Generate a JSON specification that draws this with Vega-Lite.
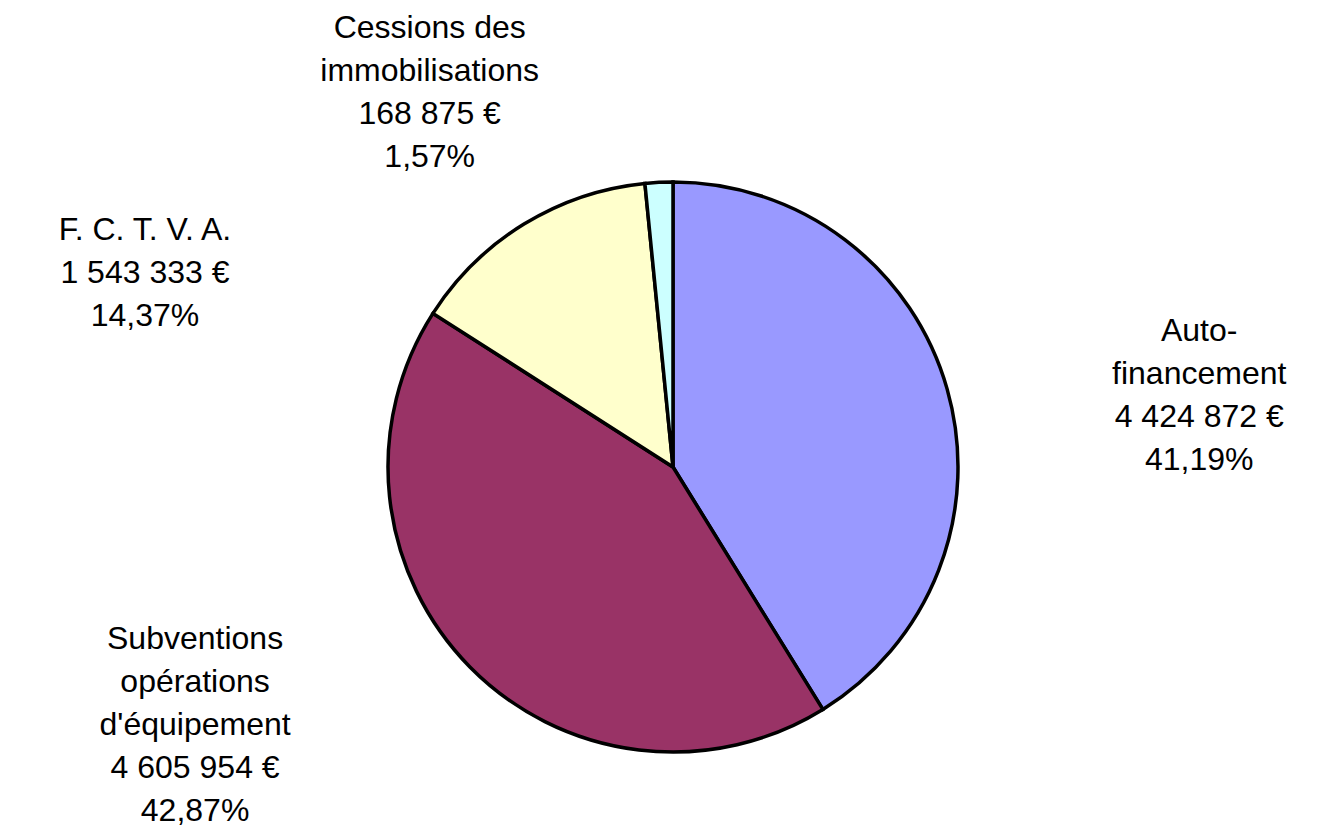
{
  "$schema": "https://vega.github.io/schema/vega-lite/v6.json",
  "width": 1306,
  "height": 726,
  "autosize": {"type": "none"},
  "padding": {"left": 20, "top": 104, "right": 0, "bottom": 0},
  "background": "white",
  "config": {"view": {"stroke": null}},
  "data": {
    "values": [
      {"rang": 1, "categorie": "Auto-financement", "montant": 4424872, "etiquette": "Auto-\nfinancement\n4 424 872 €\n41,19%"},
      {"rang": 2, "categorie": "Subventions opérations d'équipement", "montant": 4605954, "etiquette": "Subventions\nopérations\nd'équipement\n4 605 954 €\n42,87%"},
      {"rang": 3, "categorie": "F. C. T. V. A.", "montant": 1543333, "etiquette": "F. C. T. V. A.\n1 543 333 €\n14,37%"},
      {"rang": 4, "categorie": "Cessions des immobilisations", "montant": 168875, "etiquette": "Cessions des\nimmobilisations\n168 875 €\n1,57%"}
    ]
  },
  "encoding": {
    "theta": {"field": "montant", "type": "quantitative", "stack": true},
    "order": {"field": "rang", "type": "quantitative", "sort": "ascending"}
  },
  "layer": [
    {
      "mark": {"type": "arc", "radius": 285, "stroke": "black", "strokeWidth": 3.5},
      "encoding": {
        "color": {
          "field": "categorie",
          "type": "nominal",
          "scale": {
            "domain": ["Auto-financement", "Subventions opérations d'équipement", "F. C. T. V. A.", "Cessions des immobilisations"],
            "range": ["#9999FF", "#993366", "#FFFFCC", "#CCFFFF"]
          },
          "legend": null
        }
      }
    },
    {
      "mark": {"type": "text", "radius": 310, "dx": 228, "dy": -51, "font": "Liberation Sans", "fontSize": 32, "lineHeight": 43, "lineBreak": "\n", "align": "center", "baseline": "middle", "color": "black"},
      "encoding": {
        "text": {"condition": {"test": "datum.rang === 1", "field": "etiquette"}, "value": ""}
      }
    },
    {
      "mark": {"type": "text", "radius": 310, "dx": -257, "dy": -45, "font": "Liberation Sans", "fontSize": 32, "lineHeight": 43, "lineBreak": "\n", "align": "center", "baseline": "middle", "color": "black"},
      "encoding": {
        "text": {"condition": {"test": "datum.rang === 2", "field": "etiquette"}, "value": ""}
      }
    },
    {
      "mark": {"type": "text", "radius": 310, "dx": -366, "dy": 27, "font": "Liberation Sans", "fontSize": 32, "lineHeight": 43, "lineBreak": "\n", "align": "center", "baseline": "middle", "color": "black"},
      "encoding": {
        "text": {"condition": {"test": "datum.rang === 3", "field": "etiquette"}, "value": ""}
      }
    },
    {
      "mark": {"type": "text", "radius": 310, "dx": -228, "dy": -129, "font": "Liberation Sans", "fontSize": 32, "lineHeight": 43, "lineBreak": "\n", "align": "center", "baseline": "middle", "color": "black"},
      "encoding": {
        "text": {"condition": {"test": "datum.rang === 4", "field": "etiquette"}, "value": ""}
      }
    }
  ]
}
